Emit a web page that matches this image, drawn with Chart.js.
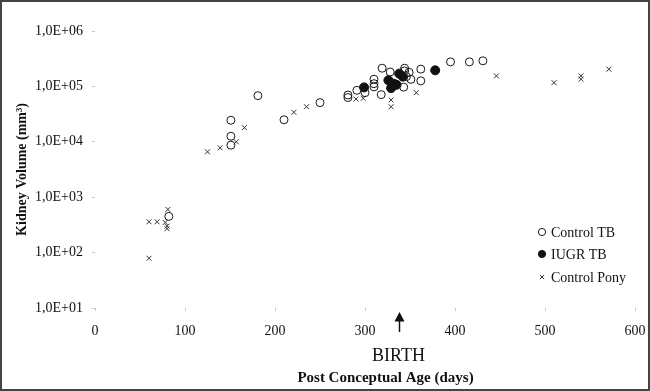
<!DOCTYPE html>
<html>
<head>
<meta charset="utf-8">
<script src="https://cdn.jsdelivr.net/npm/chart.js@4.4.1/dist/chart.umd.min.js"></script>
<style>
html,body{margin:0;padding:0;background:#fff;}
#wrap{width:650px;height:391px;position:relative;}
</style>
</head>
<body>
<div id="wrap"><canvas id="c" width="650" height="391"></canvas></div>
<script>
// ---- data ----
const controlTBDays   = [82, 151, 151, 151, 181, 210, 250, 281, 281, 291, 300, 310, 310, 310, 318, 319, 328, 343, 344, 344, 346, 349, 351, 362, 362, 395, 416, 431];
const controlTBVolume = [450, 24500, 12600, 8700, 68000, 25000, 51000, 70000, 63000, 85000, 77000, 135000, 112000, 98000, 71000, 213000, 182000, 97000, 213000, 190000, 150000, 180000, 134000, 205000, 126000, 277000, 277000, 290000];

const iugrTBDays   = [299, 326, 329, 332, 335, 338, 342, 378];
const iugrTBVolume = [96000, 129000, 93000, 112000, 107000, 170000, 150000, 195000];

const ponyDays   = [60, 60, 69, 81, 78, 80, 80, 125, 139, 157, 166, 221, 235, 290, 298, 329, 329, 357, 446, 510, 540, 540, 571];
const ponyVolume = [79, 360, 360, 600, 350, 300, 270, 6600, 7800, 10000, 18000, 34000, 43000, 59000, 61000, 57000, 43000, 77000, 155000, 117000, 155000, 135000, 204000];

const seriesLabels = ['Control TB', 'IUGR TB', 'Control Pony'];
const xTickValues = [0, 100, 200, 300, 400, 500, 600];
const xTickLabels = ['0', '100', '200', '300', '400', '500', '600'];
const yTickValues = [10, 100, 1000, 10000, 100000, 1000000];
const yTickLabels = ['1,0E+01', '1,0E+02', '1,0E+03', '1,0E+04', '1,0E+05', '1,0E+06'];
const birthDay = [338];
const birthLabel = 'BIRTH';
const xTitle = 'Post Conceptual Age (days)';
const yTitle = 'Kidney Volume (mm\u00B3)';

// ---- build ----
const toPts = (xs, ys) => xs.map((x, i) => ({x: x, y: ys[i]}));
const SERIF = "'Liberation Serif', 'Times New Roman', serif";

const decorPlugin = {
  id: 'decor',
  beforeDraw(chart) {
    const ctx = chart.ctx;
    ctx.save();
    ctx.fillStyle = '#fff';
    ctx.fillRect(0, 0, chart.width, chart.height);
    ctx.restore();
  },
  afterDraw(chart) {
    const ctx = chart.ctx;
    const xs = chart.scales.x;
    const ca = chart.chartArea;
    ctx.save();
    // arrow at birth
    const ax = Math.round(xs.getPixelForValue(birthDay[0])) + 0.5;
    const tipY = ca.bottom + 4;
    ctx.strokeStyle = '#111';
    ctx.fillStyle = '#111';
    ctx.lineWidth = 1.5;
    ctx.beginPath();
    ctx.moveTo(ax, tipY + 8);
    ctx.lineTo(ax, tipY + 20);
    ctx.stroke();
    ctx.beginPath();
    ctx.moveTo(ax, tipY);
    ctx.lineTo(ax - 5, tipY + 9.5);
    ctx.lineTo(ax + 5, tipY + 9.5);
    ctx.closePath();
    ctx.fill();
    // BIRTH
    ctx.font = '18px ' + SERIF;
    ctx.textAlign = 'center';
    ctx.textBaseline = 'middle';
    ctx.fillText(birthLabel, ax - 1, ca.bottom + 48);
    // x title
    ctx.font = 'bold 15px ' + SERIF;
    ctx.fillText(xTitle, ax - 14, ca.bottom + 70);
    // legend
    const lx = ca.right - 93;
    const rows = [ca.bottom - 76, ca.bottom - 54, ca.bottom - 31];
    chart.data.datasets.forEach((ds, i) => {
      const y = rows[i];
      ctx.lineWidth = 1;
      ctx.strokeStyle = ds.borderColor;
      ctx.fillStyle = ds.backgroundColor;
      Chart.helpers.drawPoint(ctx, {
        pointStyle: ds.pointStyle,
        radius: ds.pointStyle === 'crossRot' ? 3 : 3.6,
        rotation: 0,
        borderWidth: 1
      }, lx, y);
      ctx.fillStyle = '#111';
      ctx.font = '14px ' + SERIF;
      ctx.textAlign = 'left';
      ctx.textBaseline = 'middle';
      ctx.fillText(ds.label, lx + 9, y + 1);
    });
    // outer frame
    ctx.strokeStyle = '#444';
    ctx.lineWidth = 2;
    ctx.strokeRect(1, 1, chart.width - 2, chart.height - 2);
    ctx.restore();
  }
};

new Chart(document.getElementById('c'), {
  type: 'scatter',
  data: {
    datasets: [
      {
        label: seriesLabels[0],
        data: toPts(controlTBDays, controlTBVolume),
        pointStyle: 'circle',
        pointRadius: 4,
        borderWidth: 1,
        borderColor: '#1a1a1a',
        backgroundColor: 'rgba(255,255,255,0)'
      },
      {
        label: seriesLabels[1],
        data: toPts(iugrTBDays, iugrTBVolume),
        pointStyle: 'circle',
        pointRadius: 4.5,
        borderWidth: 1,
        borderColor: '#111',
        backgroundColor: '#111'
      },
      {
        label: seriesLabels[2],
        data: toPts(ponyDays, ponyVolume),
        pointStyle: 'crossRot',
        pointRadius: 3.5,
        borderWidth: 1,
        borderColor: '#333',
        backgroundColor: '#333'
      }
    ]
  },
  options: {
    responsive: false,
    animation: false,
    devicePixelRatio: 1,
    layout: { padding: { top: 31, right: 15, bottom: 0, left: 0 } },
    plugins: {
      legend: { display: false },
      tooltip: { enabled: false }
    },
    scales: {
      x: {
        type: 'linear',
        min: 0,
        max: 600,
        afterBuildTicks(scale) { scale.ticks = xTickValues.map(v => ({value: v})); },
        afterFit(scale) { scale.height = 83; scale.paddingLeft = 0; scale.paddingRight = 0; },
        ticks: {
          callback: (v) => xTickLabels[xTickValues.indexOf(v)],
          font: { family: SERIF, size: 14 },
          color: '#111',
          padding: 12,
          maxRotation: 0
        },
        grid: { display: true, drawOnChartArea: false, drawTicks: true, tickLength: 3, color: '#c8c8c8' },
        border: { display: false }
      },
      y: {
        type: 'logarithmic',
        min: 10,
        max: 1000000,
        afterBuildTicks(scale) { scale.ticks = yTickValues.map(v => ({value: v})); },
        afterFit(scale) { scale.width = 95; scale.paddingTop = 0; scale.paddingBottom = 0; },
        ticks: {
          callback: (v) => yTickLabels[yTickValues.indexOf(v)],
          font: { family: SERIF, size: 14 },
          color: '#111',
          padding: 9
        },
        grid: { display: true, drawOnChartArea: false, drawTicks: true, tickLength: 3, color: '#c8c8c8' },
        border: { display: false },
        title: {
          display: true,
          text: yTitle,
          font: { family: SERIF, size: 14, weight: 'bold' },
          color: '#111',
          padding: { top: 14, bottom: 0 }
        }
      }
    }
  },
  plugins: [decorPlugin]
});
</script>
</body>
</html>
